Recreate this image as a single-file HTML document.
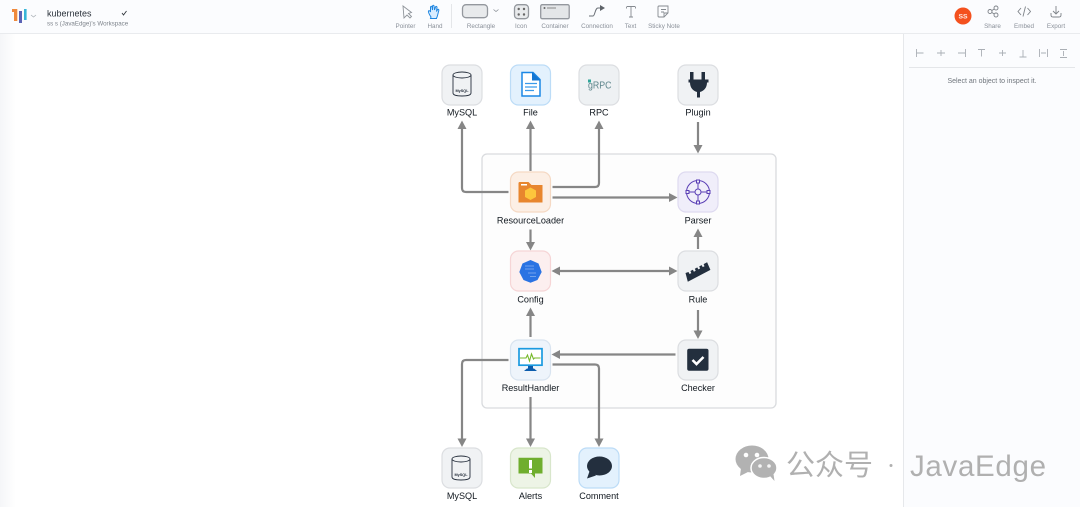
<!DOCTYPE html>
<html><head><meta charset="utf-8">
<style>
html,body{margin:0;padding:0;background:#fff}
svg{display:block}
text{font-family:"Liberation Sans","Noto Sans CJK SC",sans-serif}
.l{font-size:9.100px;fill:#11181f;text-anchor:middle}
.t{font-size:6.300px;fill:#8a9099;text-anchor:middle}
.c{fill:none;stroke:#868686;stroke-width:2.200}
.a{fill:#868686}
.p{fill:none;stroke:#aaafb5;stroke-width:.9}
</style></head>
<body>
<svg width="1080" height="507" viewBox="0 0 1080 507" xmlns="http://www.w3.org/2000/svg">
<defs><linearGradient id="g" x1="0" x2="1" y1="0" y2="0"><stop offset="0" stop-color="#f5f6f8"/><stop offset="1" stop-color="#fff"/></linearGradient></defs>
<rect width="1080" height="507" fill="#fff"/>
<rect x="0" y="34" width="16" height="473" fill="url(#g)"/>
<!-- top bar -->
<rect width="1080" height="33.500" fill="#fbfcfe"/>
<rect y="33" width="1080" height="1" fill="#e9ebee"/>
<!-- right panel -->
<rect x="903.500" y="34" width="176.500" height="473" fill="#fbfcfe"/>
<rect x="903" y="34" width="1" height="473" fill="#e6e8eb"/>
<rect x="909" y="67" width="166" height="1" fill="#e4e6e9"/>
<!-- logo -->
<rect x="14" y="9" width="3.300" height="12" fill="#f08a3c"/><rect x="12" y="9" width="3" height="3" fill="#f08a3c"/>
<rect x="19" y="11" width="3" height="12" fill="#5b63b5"/>
<rect x="24" y="9" width="2.600" height="11" fill="#38b6d8"/>
<path d="M31 15l2.500 2 2.500-2" fill="none" stroke="#aab0b7" stroke-width=".8"/>
<text x="47" y="16.500" font-size="9" fill="#2b323b">kubernetes</text>
<text x="47" y="25.500" font-size="6.200" fill="#7d838b">ss s (JavaEdge)'s Workspace</text>
<path d="M122 13l1.500 2 3-4" fill="none" stroke="#30363d" stroke-width=".9"/>
<!-- toolbar icons -->
<path d="M403 6l1 12 3-3 3 3 1.500-1.500-3-3 3-1z" fill="#fbfcfe" stroke="#8f949a" stroke-width=".9"/>
<path d="M431 17c-2-3-3-5-2.500-6s1.500 0 2 1l0-5c.5-1 1.500-1 1.500 0l.5 3 0-4c.5-1 1.500-1 1.500 0l.5 4 1-3c.5-1 1.500-.5 1.500.5l-.5 4 1-2c1-.5 1.500 0 1.300 1l-1.300 5c-.5 2-1 2.500-1 3h-6z" fill="#d8ecff" stroke="#1f86e0" stroke-width="1"/>
<rect x="451" y="4" width="1" height="24" fill="#e4e6e9"/>
<rect x="462.500" y="4.700" width="25" height="13" rx="3.500" fill="#e8eaec" stroke="#94989e" stroke-width="1.300"/>
<path d="M493.500 9.500l2.500 2 2.500-2" fill="none" stroke="#8a8f96" stroke-width=".8"/>
<rect x="514.500" y="4.700" width="14" height="14" rx="3.500" fill="#e8eaec" stroke="#94989e" stroke-width="1.300"/>
<circle cx="518.700" cy="9" r="1.200" fill="#666"/><circle cx="524" cy="9" r="1.200" fill="#666"/><circle cx="518.700" cy="14.500" r="1.200" fill="#666"/><circle cx="524" cy="14.500" r="1.200" fill="#666"/>
<rect x="540.700" y="4.700" width="28.500" height="14" rx="1.500" fill="#e4e6e8" stroke="#94989e" stroke-width="1.300"/>
<circle cx="544.500" cy="8" r="1" fill="#666"/><rect x="547" y="7.500" width="9" height="1" fill="#888"/>
<path d="M589 16h4c2 0 2-8 5-8h3" fill="none" stroke="#6a6f76" stroke-width="1"/><path d="M600 5l5 3-5 3z" fill="#5e6369"/>
<path d="M627 6.500h8M631 6.500v10.500M629 17h4M626.500 8.500v-2M635.500 8.500v-2" fill="none" stroke="#858a90" stroke-width=".9"/>
<path d="M659 6h9v7l-4 4h-5c-.5 0-1-.5-1-1v-9c0-.5.500-1 1-1zM661 9.500h5M661 12h3M664 17v-4h4" fill="none" stroke="#858a90" stroke-width=".9"/>
<text class="t" x="405.500" y="28">Pointer</text>
<text class="t" x="435" y="28">Hand</text>
<text class="t" x="481" y="28">Rectangle</text>
<text class="t" x="521" y="28">Icon</text>
<text class="t" x="555" y="28">Container</text>
<text class="t" x="597" y="28">Connection</text>
<text class="t" x="630.500" y="28">Text</text>
<text class="t" x="664" y="28">Sticky Note</text>
<!-- right toolbar -->
<circle cx="963" cy="16" r="8.500" fill="#f4511e"/>
<text x="963" y="18.300" font-size="6.800" font-weight="bold" fill="#fff" fill-opacity=".9" text-anchor="middle">SS</text>
<g fill="none" stroke="#7d8288" stroke-width=".9"><circle cx="990" cy="11.500" r="2"/><circle cx="996" cy="8" r="2"/><circle cx="996" cy="15" r="2"/><path d="M991.800 10.500l2.500-1.500M991.800 12.500l2.500 1.500"/>
<path d="M1021 8l-3 3.500 3 3.500M1027.500 8l3 3.500-3 3.500M1025.500 6.500l-2.500 10"/>
<path d="M1056 6v8M1053 11l3 3 3-3M1051 13v2c0 1.500 1 2 2 2h6c1 0 2-.5 2-2v-2"/></g>
<text class="t" x="992.500" y="28">Share</text>
<text class="t" x="1024" y="28">Embed</text>
<text class="t" x="1056" y="28">Export</text>
<!-- align icons -->
<g class="p">
<path d="M916.500 49v8M916.500 53h7"/><path d="M937 53h8M941 50v6"/><path d="M958 53h7M965.500 49v8"/>
<path d="M978 49.500h7M981.500 49.500v7"/><path d="M999 53h7M1002.500 50v6"/><path d="M1019.500 57h7M1023 50v7"/>
<path d="M1039.500 49v8M1047.500 49v8M1041 53h5"/><path d="M1060 49.500h7M1060 57.500h7M1063.500 51v5"/>
</g>
<text x="992" y="83" font-size="7" fill="#6f757c" text-anchor="middle">Select an object to inspect it.</text>
<!-- container -->
<rect x="482" y="154" width="294" height="254" rx="5" fill="#fdfdfd" stroke="#d9dbde" stroke-width="1.300"/>
<!-- connectors -->
<g class="c">
<path d="M508.500 192H466q-4 0-4-4V128"/>
<path d="M530.500 171V128"/>
<path d="M552.500 187H595q4 0 4-4V128"/>
<path d="M698 122V147"/>
<path d="M552.500 197.500H673"/>
<path d="M530.500 229.500V244"/>
<path d="M698 249V235"/>
<path d="M558 271H672"/>
<path d="M530.500 337V314"/>
<path d="M698 310V333"/>
<path d="M675.500 354.500H558"/>
<path d="M508.500 360H466q-4 0-4 4V441"/>
<path d="M530.500 397V441"/>
<path d="M552.500 364.500H595q4 0 4 4V441"/>
</g>
<g class="a">
<path d="M462 120.500l-4.500 8.500h9z"/><path d="M530.500 120.500l-4.500 8.500h9z"/><path d="M599 120.500l-4.500 8.500h9z"/>
<path d="M698 153.500l-4.500-8.500h9z"/>
<path d="M677.500 197.500l-8.500-4.500v9z"/>
<path d="M530.500 250.500l-4.500-8.500h9z"/>
<path d="M698 228.500l-4.500 8.500h9z"/>
<path d="M551.500 271l8.500-4.500v9z"/><path d="M677.500 271l-8.500-4.500v9z"/>
<path d="M530.500 307.500l-4.500 8.500h9z"/>
<path d="M698 339l-4.500-8.500h9z"/>
<path d="M551.500 354.500l8.500-4.500v9z"/>
<path d="M462 447l-4.500-8.500h9z"/><path d="M530.500 447l-4.500-8.500h9z"/><path d="M599 447l-4.500-8.500h9z"/>
</g>
<!-- nodes -->
<g stroke-width="1.200">
<rect x="442" y="65" width="40" height="40" rx="8" fill="#f0f2f4" stroke="#dcdee1"/>
<rect x="510.500" y="65" width="40" height="40" rx="8" fill="#e3f1fd" stroke="#bcdcf7"/>
<rect x="579" y="65" width="40" height="40" rx="8" fill="#eef1f3" stroke="#dcdee1"/>
<rect x="678" y="65" width="40" height="40" rx="8" fill="#f0f2f4" stroke="#dcdee1"/>
<rect x="510.500" y="172" width="40" height="40" rx="8" fill="#fcefe5" stroke="#f5d9c4"/>
<rect x="678" y="172" width="40" height="40" rx="8" fill="#f0eefa" stroke="#dedaf0"/>
<rect x="510.500" y="251" width="40" height="40" rx="8" fill="#fcefef" stroke="#f6d5d6"/>
<rect x="678" y="251" width="40" height="40" rx="8" fill="#f0f2f4" stroke="#dcdee1"/>
<rect x="510.500" y="340" width="40" height="40" rx="8" fill="#eef4fb" stroke="#d9e4f0"/>
<rect x="678" y="340" width="40" height="40" rx="8" fill="#f0f2f4" stroke="#dcdee1"/>
<rect x="442" y="448" width="40" height="40" rx="8" fill="#f0f2f4" stroke="#dcdee1"/>
<rect x="510.500" y="448" width="40" height="40" rx="8" fill="#edf4e6" stroke="#d8e6cb"/>
<rect x="579" y="448" width="40" height="40" rx="8" fill="#e3f1fd" stroke="#bcdcf7"/>
</g>
<!-- mysql icons -->
<g fill="none" stroke="#27303d" stroke-width=".9">
<ellipse cx="462" cy="75" rx="9" ry="3"/><path d="M453 75v18c0 2 4 3 9 3s9-1 9-3V75"/>
<ellipse cx="461" cy="459" rx="9" ry="3"/><path d="M452 459v18c0 2 4 3 9 3s9-1 9-3V459"/>
</g>
<text x="462" y="92" font-size="3.800" font-weight="bold" fill="#27303d" text-anchor="middle">MySQL</text>
<text x="461" y="476" font-size="3.800" font-weight="bold" fill="#27303d" text-anchor="middle">MySQL</text>
<!-- file -->
<path d="M522 72.500h11l7 7v16.500h-18z" fill="#fff" stroke="#1b87e5" stroke-width="1.500"/>
<path d="M532 72l8.500 8.500h-8.500z" fill="#1476d2"/>
<path d="M525 83.500h12M525 87h12M525 90.500h9" stroke="#3a9aea" stroke-width="1.300" fill="none"/>
<!-- grpc -->
<text x="588" y="88.500" font-size="10" fill="#5d858b" textLength="23.500" lengthAdjust="spacingAndGlyphs">gRPC</text>
<rect x="588" y="79.500" width="3" height="3" fill="#2fa59a"/>
<!-- plug -->
<path d="M690 72h3.500v7.500h8v-7.500h3.500v7.500h3.500v3h-1.500c0 5-3 8.500-7 9.500v5.500h-3v-5.500c-4-1-7-4.500-7-9.500h-1.500v-3h1.500z" fill="#232f3e"/>
<!-- resource loader -->
<path d="M518.500 183.500v-.5c0-.5.500-1 1-1h9l3 3h11v17.500h-24z" fill="#e8862e"/>
<rect x="521" y="184" width="6" height="1.500" fill="#fff"/>
<path d="M530.500 187.500l5.500 3v6.500l-5.500 3-5.500-3v-6.500z" fill="#fdc63c"/>
<!-- parser -->
<g fill="none" stroke="#5a3fb5" stroke-width="1">
<circle cx="698" cy="192" r="11.500"/><circle cx="698" cy="192" r="3"/>
<path d="M698 182v7M698 195v7M688 192h7M701 192h7"/>
<rect x="696.500" y="180" width="3" height="3" fill="#f0eefa"/><rect x="696.500" y="201" width="3" height="3" fill="#f0eefa"/>
<rect x="686" y="190.500" width="3" height="3" fill="#f0eefa"/><rect x="707" y="190.500" width="3" height="3" fill="#f0eefa"/>
</g>
<!-- config -->
<path d="M530.500 260l8 3.500 3.200 8.500-4.200 8-7 2.700-7-2.700-4.200-8 3.200-8.500z" fill="#2a73e3"/>
<path d="M525 266h9M525 269h9M528 273h8M530 276.500h6" stroke="#b7d1f6" stroke-width=".6" fill="none"/>
<!-- rule -->
<path d="M685.500 273l3-1 1 2 1.800-.9-.9-2.100 2.500-1.300 1 2 1.800-.9-.9-2.100 2.500-1.300 1 2 1.800-.9-.9-2.100 2.500-1.300 1 2 1.800-.9-.9-2.100 3.500-1.900 3.300 7.700-22.600 11.800z" fill="#232f3e"/>
<!-- result handler -->
<rect x="519" y="348.700" width="23" height="16.500" fill="#fff" stroke="#1b9ae0" stroke-width="1.700"/>
<path d="M520 358h6l1.500-3 2 6 2-7 2 5 1-1h6" stroke="#76b82a" stroke-width="1.100" fill="none"/>
<rect x="528" y="366" width="5" height="3" fill="#0b5cad"/><path d="M524 371l3-2.500h7l3 2.500z" fill="#0b5cad"/>
<!-- checker -->
<rect x="687.200" y="348.800" width="21.300" height="22" rx="2" fill="#232f3e"/>
<path d="M692.500 360l4 4 7-7" stroke="#fff" stroke-width="2.600" fill="none"/>
<!-- alerts -->
<path d="M518.500 457.700h24v15.800h-7.500v4.500l-4-4.500h-12.500z" fill="#6fae2e"/>
<rect x="529" y="460" width="3" height="8.500" fill="#fff"/><rect x="529" y="470" width="3" height="3" fill="#fff"/>
<!-- comment -->
<ellipse cx="599.500" cy="466" rx="12.500" ry="9.500" fill="#232f3e"/>
<path d="M590 470l-3 8.500 9-3z" fill="#232f3e"/>
<!-- labels -->
<text class="l" x="462" y="115.500">MySQL</text>
<text class="l" x="530.500" y="115.500">File</text>
<text class="l" x="599" y="115.500">RPC</text>
<text class="l" x="698" y="115.500">Plugin</text>
<text class="l" x="530.500" y="223.500">ResourceLoader</text>
<text class="l" x="698" y="223.500">Parser</text>
<text class="l" x="530.500" y="302.500">Config</text>
<text class="l" x="698" y="302.500">Rule</text>
<text class="l" x="530.500" y="391">ResultHandler</text>
<text class="l" x="698" y="391">Checker</text>
<text class="l" x="462" y="499">MySQL</text>
<text class="l" x="530.500" y="499">Alerts</text>
<text class="l" x="599" y="499">Comment</text>
<!-- watermark -->
<g fill="#b2b2b2">
<ellipse cx="752" cy="459" rx="16.500" ry="13.500"/><path d="M741 468l-1 8 8-4z"/>
<g stroke="#fff" stroke-width="1.500"><ellipse cx="764" cy="468" rx="13" ry="10.500"/></g><path d="M770 476l4.500 5-1-7z"/>
</g>
<g fill="#fff"><circle cx="746" cy="455" r="2.300"/><circle cx="757" cy="455" r="2.300"/></g>
<g fill="#f5f5f5"><circle cx="760" cy="466" r="1.800"/><circle cx="769" cy="466" r="1.800"/></g>
<text x="786" y="475" font-size="29" fill="#b0b0b0" font-family="'Noto Sans CJK SC',sans-serif">公众号</text>
<circle cx="891" cy="465.500" r="1.500" fill="#b0b0b0"/>
<text x="910" y="476" font-size="29.500" fill="#b0b0b0" font-family="'Noto Sans CJK SC',sans-serif" textLength="136">JavaEdge</text>
</svg>
</body></html>
